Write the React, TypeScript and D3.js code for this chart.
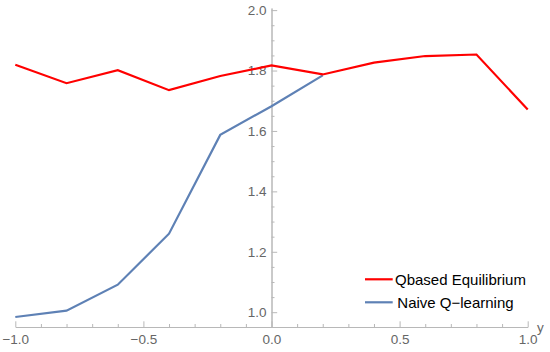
import { useEffect, useRef } from 'react';
import * as d3 from 'd3';

const xs = [-1.0, -0.8, -0.6, -0.4, -0.2, 0.0, 0.2, 0.4, 0.6, 0.8, 1.0];
const qbased = [1.819, 1.758, 1.801, 1.735, 1.782, 1.817, 1.787, 1.826, 1.848, 1.853, 1.671];
const naive = [0.984, 1.005, 1.091, 1.26, 1.587, 1.682, 1.784];

const xMajor = [-1.0, -0.5, 0.0, 0.5, 1.0];
const yMajor = [1.0, 1.2, 1.4, 1.6, 1.8, 2.0];

const series = [
  { name: 'Qbased Equilibrium', values: qbased, colour: '#ff0000' },
  { name: 'Naive Q\u2212learning', values: naive, colour: '#5e81b5' },
];

const W = 550;
const H = 352;

const App = () => {
  const svgRef = useRef<SVGSVGElement>(null);

  useEffect(() => {
    const svg = d3.select(svgRef.current);
    svg.selectAll('*').remove();

    const xScale = d3.scaleLinear().domain([-1, 1]).range([15.3, 527.7]);
    const yScale = d3.scaleLinear().domain([0.951, 2.007]).range([327, 8]);

    const x0 = xScale(0);
    const y0 = yScale(0.951);

    const xMinor = d3.range(-10, 11).map((i) => i / 10).filter((v) => !xMajor.some((m) => Math.abs(m - v) < 1e-9));
    const yMinor = d3.range(20, 41).map((i) => i / 20).filter((v) => !yMajor.some((m) => Math.abs(m - v) < 1e-9));

    const styleAxis = (g: any) => {
      g.select('.domain').attr('stroke', '#b8b8b8');
      g.selectAll('.tick line').attr('stroke', '#b8b8b8');
      g.selectAll('.tick text')
        .attr('fill', '#666')
        .attr('font-family', 'Liberation Sans, Arial, sans-serif')
        .attr('font-size', 13.5);
    };

    // x axis, ticks pointing up
    svg
      .append('g')
      .attr('transform', `translate(0, ${y0})`)
      .call(d3.axisBottom(xScale).tickValues(xMinor).tickSize(-3).tickSizeOuter(0).tickFormat(() => ''))
      .call(styleAxis);
    svg
      .append('g')
      .attr('transform', `translate(0, ${y0})`)
      .call(d3.axisBottom(xScale).tickValues(xMajor).tickSize(-5.7).tickSizeOuter(0).tickPadding(7).tickFormat(d3.format('.1f')))
      .call(styleAxis);

    // y axis through x=0, ticks pointing right
    svg
      .append('g')
      .attr('transform', `translate(${x0}, 0)`)
      .call(d3.axisLeft(yScale).tickValues(yMinor).tickSize(-3).tickSizeOuter(0).tickFormat(() => ''))
      .call(styleAxis);
    svg
      .append('g')
      .attr('transform', `translate(${x0}, 0)`)
      .call(d3.axisLeft(yScale).tickValues(yMajor).tickSize(-5.7).tickSizeOuter(0).tickPadding(5).tickFormat(d3.format('.1f')))
      .call(styleAxis);

    svg
      .append('text')
      .attr('x', 537)
      .attr('y', 332)
      .attr('fill', '#666')
      .attr('font-family', 'Liberation Sans, Arial, sans-serif')
      .attr('font-size', 13.5)
      .text('y');

    const line = d3
      .line<number>()
      .x((_, i) => xScale(xs[i]))
      .y((v) => yScale(v));

    // draw naive first so red sits on top
    [...series].reverse().forEach((s) => {
      svg
        .append('path')
        .attr('d', line(s.values))
        .attr('fill', 'none')
        .attr('stroke', s.colour)
        .attr('stroke-width', 2.2)
        .attr('stroke-linejoin', 'miter');
    });

    const legend = svg.append('g').attr('transform', 'translate(365, 279.3)');
    series.forEach((s, i) => {
      const row = legend.append('g').attr('transform', `translate(0, ${i * 23})`);
      row.append('line').attr('x1', 0).attr('x2', 27.7).attr('stroke', s.colour).attr('stroke-width', 2.2);
      row
        .append('text')
        .attr('x', i === 0 ? 30 : 32.3)
        .attr('dy', '0.35em')
        .attr('fill', '#000')
        .attr('font-family', 'Liberation Sans, Arial, sans-serif')
        .attr('font-size', 15)
        .text(s.name);
    });
  }, []);

  return (
    <div style={{ position: 'fixed', left: 0, top: 0, width: W, height: H, background: '#fff' }}>
      <svg ref={svgRef} width={W} height={H} style={{ display: 'block' }} />
    </div>
  );
};

export default App;
